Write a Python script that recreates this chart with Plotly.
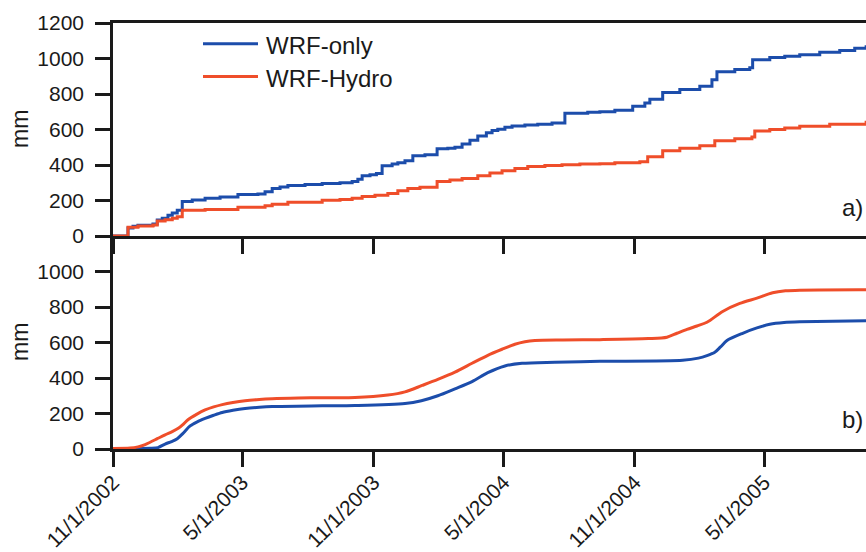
import pandas as pd
import plotly.graph_objects as go

START = pd.Timestamp("2002-11-01")

SERIES_ONLY = "WRF-only"
SERIES_HYDRO = "WRF-Hydro"
BLUE = "#1c4dab"
RED = "#ef4e2a"

# Panel a): accumulated totals (days since 11/1/2002, mm), stepwise
a_only_days = [0, 21, 28, 35, 56, 62, 69, 77, 83, 90, 97, 111, 129, 150, 175, 203, 213, 223,
               234, 245, 269, 293, 318, 335, 343, 349, 360, 369, 377, 391, 399, 409, 420, 437,
               454, 469, 479, 489, 500, 511, 523, 531, 539, 549, 559, 577, 595, 615, 633, 665,
               682, 703, 728, 745, 752, 770, 794, 822, 839, 846, 871, 892, 896, 920, 941, 962,
               990, 1018, 1039, 1055, 1075]
a_only_mm = [0, 45, 55, 61, 67, 90, 100, 117, 130, 145, 195, 203, 212, 220, 234, 236, 250, 268,
             276, 285, 290, 296, 300, 307, 320, 340, 345, 352, 396, 405, 412, 424, 452, 458,
             491, 495, 500, 519, 540, 564, 582, 595, 602, 612, 620, 625, 630, 636, 692, 697,
             700, 709, 731, 750, 770, 809, 825, 843, 880, 926, 938, 948, 993, 1005, 1012, 1021,
             1035, 1045, 1058, 1066, 1070]

a_hydro_days = [0, 21, 35, 56, 62, 73, 83, 90, 97, 129, 175, 203, 213, 223, 245, 293, 318, 335,
                349, 367, 385, 399, 413, 430, 454, 472, 489, 511, 528, 545, 563, 581, 605, 629,
                654, 682, 703, 738, 749, 770, 794, 822, 843, 871, 895, 899, 920, 941, 962, 1004,
                1055, 1075]
a_hydro_mm = [0, 50, 56, 62, 85, 92, 100, 109, 145, 150, 162, 162, 170, 179, 190, 201, 205, 212,
              223, 230, 240, 255, 268, 275, 307, 315, 324, 340, 355, 368, 380, 391, 397, 402,
              405, 407, 413, 418, 446, 480, 495, 508, 536, 548, 558, 592, 600, 608, 619, 630,
              641, 643]

# Panel b): accumulated totals (days since 11/1/2002, mm), smooth
b_only_days = [0, 52, 63, 73, 82, 90, 98, 108, 118, 129, 141, 153, 168, 185, 205, 223, 293, 339,
               409, 432, 455, 479, 503, 525, 549, 573, 619, 682, 798, 820, 832, 843, 851, 860,
               882, 902, 920, 940, 962, 1055, 1075]
b_only_mm = [3, 4, 8, 28, 42, 58, 88, 130, 153, 172, 190, 206, 218, 228, 235, 239, 243, 245,
             256, 272, 300, 339, 380, 430, 468, 483, 489, 494, 500, 512, 526, 545, 575, 611,
             652, 682, 703, 713, 717, 722, 723]

b_hydro_days = [0, 24, 35, 45, 52, 62, 73, 83, 92, 98, 105, 117, 129, 141, 153, 168, 185, 205,
                223, 260, 293, 339, 385, 409, 433, 455, 479, 503, 525, 545, 563, 577, 591, 630,
                682, 750, 776, 790, 804, 818, 832, 854, 878, 902, 924, 942, 962, 1055, 1075]
b_hydro_mm = [3, 5, 12, 25, 38, 58, 80, 98, 118, 138, 165, 195, 220, 237, 250, 262, 272, 279,
              283, 287, 289, 290, 304, 322, 358, 392, 433, 483, 528, 562, 590, 604, 611, 614,
              616, 622, 630, 652, 674, 693, 714, 775, 820, 850, 880, 891, 895, 897, 897]

tick_dates = ["2002-11-01", "2003-05-01", "2003-11-01", "2004-05-01", "2004-11-01", "2005-05-01"]
tick_text = ["11/1/2002", "5/1/2003", "11/1/2003", "5/1/2004", "11/1/2004", "5/1/2005"]
a_yticks = [0, 200, 400, 600, 800, 1000, 1200]
b_yticks = [0, 200, 400, 600, 800, 1000]


def to_dates(days):
    return START + pd.to_timedelta(days, unit="D")


x_end = START + pd.Timedelta(days=1054.8)

FONT = "Liberation Sans, Arial, sans-serif"
INK = "#1a1a1a"

fig = go.Figure()
fig.add_trace(go.Scatter(x=to_dates(a_only_days), y=a_only_mm, name=SERIES_ONLY,
                         mode="lines", line=dict(color=BLUE, width=3, shape="hv"),
                         xaxis="x2", yaxis="y2", showlegend=False))
fig.add_trace(go.Scatter(x=to_dates(a_hydro_days), y=a_hydro_mm, name=SERIES_HYDRO,
                         mode="lines", line=dict(color=RED, width=3, shape="hv"),
                         xaxis="x2", yaxis="y2", showlegend=False))
fig.add_trace(go.Scatter(x=to_dates(b_only_days), y=b_only_mm, name=SERIES_ONLY,
                         mode="lines", line=dict(color=BLUE, width=3, shape="spline", smoothing=0.8),
                         xaxis="x", yaxis="y", showlegend=False))
fig.add_trace(go.Scatter(x=to_dates(b_hydro_days), y=b_hydro_mm, name=SERIES_HYDRO,
                         mode="lines", line=dict(color=RED, width=3, shape="spline", smoothing=0.8),
                         xaxis="x", yaxis="y", showlegend=False))

axis_common = dict(showgrid=False, zeroline=False, showline=True, linecolor=INK, linewidth=2.5,
                   ticks="outside", ticklen=15, tickwidth=2.5, tickcolor=INK,
                   tickfont=dict(family=FONT, size=21, color=INK))

fig.update_layout(
    width=866, height=552,
    margin=dict(l=113, r=0, t=23, b=99),
    paper_bgcolor="white", plot_bgcolor="white",
    font=dict(family=FONT, color=INK),
    xaxis=dict(axis_common, type="date", domain=[0, 1], anchor="y",
               range=[START, x_end], tickvals=tick_dates, ticktext=tick_text, tickangle=-45,
               ticklabelstandoff=-5),
    yaxis=dict(axis_common, domain=[0, 0.5], anchor="x", range=[0, 1200], tickvals=b_yticks,
               ticklabelstandoff=7),
    xaxis2=dict(axis_common, type="date", domain=[0, 1], anchor="y2", matches="x",
                range=[START, x_end], tickvals=tick_dates, showticklabels=False, mirror=True),
    yaxis2=dict(axis_common, domain=[0.5, 1], anchor="x2", range=[0, 1200], tickvals=a_yticks,
                ticklabelstandoff=7),
)

W_PLOT = 866 - 113
H_PLOT = 552 - 23 - 99


def px_x(px):
    return (px - 113) / W_PLOT


def px_y(py):
    return (552 - 99 - py) / H_PLOT


# Legend drawn in the upper panel
for name, color, py in [(SERIES_ONLY, BLUE, 44), (SERIES_HYDRO, RED, 77)]:
    fig.add_shape(type="line", xref="paper", yref="paper",
                  x0=px_x(203), x1=px_x(258), y0=px_y(py), y1=px_y(py),
                  line=dict(color=color, width=3))
    fig.add_annotation(xref="paper", yref="paper", x=px_x(264), y=px_y(py + 2),
                       text=name, showarrow=False, xanchor="left", yanchor="middle",
                       font=dict(family=FONT, size=24, color=INK))

# Axis titles
for py in (130, 345):
    fig.add_annotation(xref="paper", yref="paper", x=px_x(20), y=px_y(py), text="mm",
                       showarrow=False, textangle=-90, xanchor="center", yanchor="middle",
                       font=dict(family=FONT, size=23, color=INK))

# Panel labels
for label, py in (("a)", 209), ("b)", 423)):
    fig.add_annotation(xref="paper", yref="paper", x=px_x(865), y=px_y(py), text=label,
                       showarrow=False, xanchor="right", yanchor="middle",
                       font=dict(family=FONT, size=24, color=INK))

fig.write_html("out.html")
